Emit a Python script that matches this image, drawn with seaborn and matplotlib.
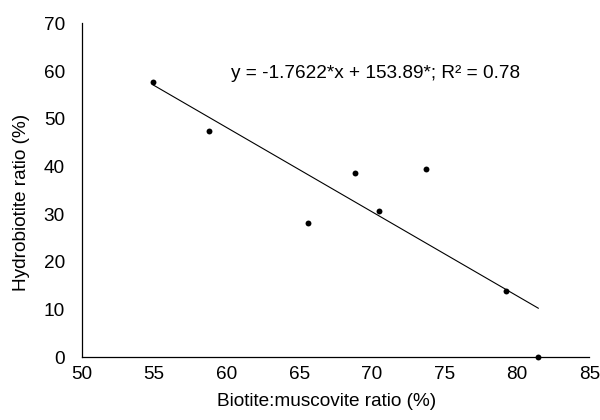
import matplotlib
matplotlib.use("Agg")
import matplotlib.pyplot as plt
import seaborn as sns
import pandas as pd
import numpy as np

# Data
biotite_muscovite = [54.94, 58.78, 65.6, 68.87, 70.48, 73.74, 79.24, 81.5]
hydrobiotite = [57.6, 47.5, 28.1, 38.7, 30.7, 39.5, 13.9, 0.0]
slope = -1.7622
intercept = 153.89
equation_label = "y = -1.7622*x + 153.89*; R\u00b2 = 0.78"
x_ticks = [50, 55, 60, 65, 70, 75, 80, 85]
y_ticks = [0, 10, 20, 30, 40, 50, 60, 70]

sns.set_theme(style="white")
plt.rcParams['font.family'] = ['Liberation Sans', 'DejaVu Sans']
FS = 13.7

df = pd.DataFrame({"x": biotite_muscovite, "y": hydrobiotite})
xfit = np.array([min(biotite_muscovite), max(biotite_muscovite)])
fit = pd.DataFrame({"x": xfit, "y": slope * xfit + intercept})

fig = plt.figure(figsize=(6, 4.2), dpi=100)
ax = fig.add_axes([0.136, 0.1493, 0.846, 0.7952])

sns.lineplot(data=fit, x="x", y="y", ax=ax, color="black", linewidth=0.8)
sns.scatterplot(data=df, x="x", y="y", ax=ax, color="black", s=18,
                edgecolor="black", linewidth=0, clip_on=False, zorder=5)

ax.set_xlim(50, 85)
ax.set_ylim(0, 70)
ax.set_xticks(x_ticks)
ax.set_yticks(y_ticks)
ax.tick_params(axis="both", length=0, labelsize=FS, colors="black")
ax.tick_params(axis="y", pad=12)
ax.tick_params(axis="x", pad=6.5)

for s in ["top", "right"]:
    ax.spines[s].set_visible(False)
for s in ["left", "bottom"]:
    ax.spines[s].set_color("black")
    ax.spines[s].set_linewidth(0.9)

ax.set_xlabel("Biotite:muscovite ratio (%)", fontsize=FS, color="black")
ax.set_ylabel("Hydrobiotite ratio (%)", fontsize=FS, color="black")
ax.xaxis.set_label_coords(0.483, -0.107)
ax.yaxis.set_label_coords(-0.102, 0.465)

ax.text(60.28, 59.4, equation_label, fontsize=FS, color="black",
        ha="left", va="center")

fig.savefig("out.png", dpi=100)
